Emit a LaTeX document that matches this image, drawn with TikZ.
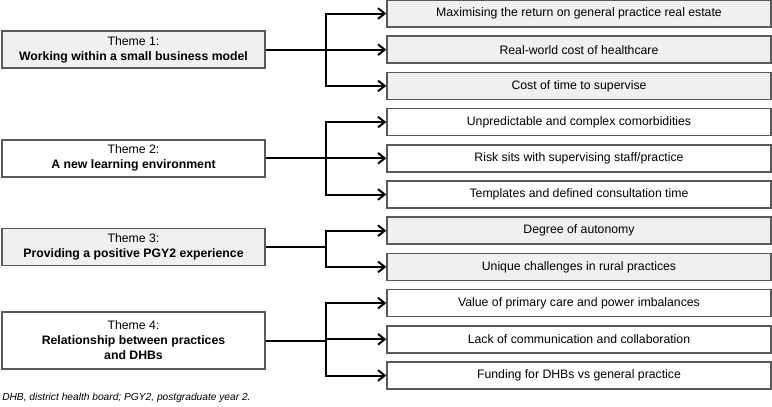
\documentclass[tikz,border=0pt]{standalone}
\usepackage{fontspec}
\setmainfont{Liberation Sans}
\usetikzlibrary{arrows.meta}
\colorlet{shade}{black!6}

\begin{document}
\begin{tikzpicture}[
	x=0.75pt, y=-0.75pt,
	font=\fontsize{9.2}{11.2}\selectfont,
	box/.style={draw=black!65, line width=1.1pt, inner sep=0pt, align=center},
	themebox/.style={box, minimum width=197.25pt, minimum height=27.75pt},
	itembox/.style={box, minimum width=288pt, minimum height=20.25pt},
	conn/.style={line width=1.5pt, -{Straight Barb[length=5pt,width=8pt]}}
  ]
	\useasboundingbox (0,0) rectangle (772,407);
	% themes
	\node[themebox, fill=shade] (t1) at (133.5,49.7) {Theme 1:\\\textbf{Working within a small business model}};
	\node[themebox, fill=white] (t2) at (133.5,158.3) {Theme 2:\\\textbf{A new learning environment}};
	\node[themebox, fill=shade] (t3) at (133.5,247) {Theme 3:\\\textbf{Providing a positive PGY2 experience}};
	\node[themebox, fill=white, minimum height=42.75pt] (t4) at (133.5,340.5) {Theme 4:\\\textbf{Relationship between practices}\\\textbf{and DHBs}};
	% subthemes
	\foreach \n/\txt/\f in {
		1/{Maximising the return on general practice real estate}/shade,
		2/{Real-world cost of healthcare}/shade,
		3/{Cost of time to supervise}/shade,
		4/{Unpredictable and complex comorbidities}/white,
		5/{Risk sits with supervising staff/practice}/white,
		6/{Templates and defined consultation time}/white,
		7/{Degree of autonomy}/shade,
		8/{Unique challenges in rural practices}/shade,
		9/{Value of primary care and power imbalances}/white,
		10/{Lack of communication and collaboration}/white,
		11/{Funding for DHBs vs general practice}/white}
		\node[itembox, fill=\f] (s\n) at (579,{13.5+36.2*(\n-1)}) {\txt};
	% junctions
	\coordinate (j1) at (326,49.7);
	\coordinate (j2) at (326,158.3);
	\coordinate (j3) at (326,247);
	\coordinate (j4) at (326,340.5);
	\foreach \t/\s in {1/1,1/2,1/3,2/4,2/5,2/6,3/7,3/8,4/9,4/10,4/11}
		\draw[conn] (t\t.east) -- (j\t) |- (s\s.west);
	\node[anchor=west, inner sep=0pt, font=\fontsize{7.65}{9}\selectfont\itshape] (note) at (2,398) {DHB, district health board; PGY2, postgraduate year 2.};
\end{tikzpicture}
\end{document}
